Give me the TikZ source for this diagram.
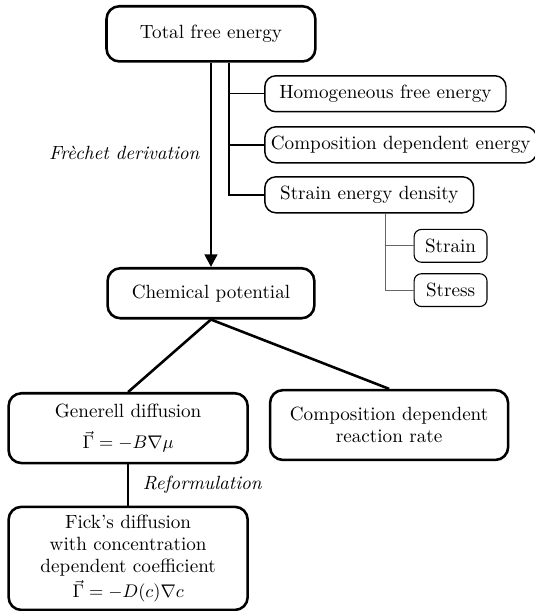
\documentclass[tikz,border=0pt]{standalone}
\usetikzlibrary{arrows.meta}
\tikzset{
    bigbox/.style={draw, line width=1.4pt, rounded corners=7pt, align=center},
    subbox/.style={draw, thick, rounded corners=6pt, minimum height=0.69cm, anchor=west},
    leafbox/.style={draw, semithick, rounded corners=4pt, minimum width=1.4cm, minimum height=0.63cm},
    branch/.style={thick},
    leafbranch/.style={semithick, gray!80!black},
}
\begin{document}
\begin{tikzpicture}[font=\fontsize{10.45}{12}\selectfont]
    \useasboundingbox (0, 0) rectangle (10.27, -11.73);

    \node[bigbox, minimum width=4.01cm, minimum height=1.06cm] (total) at (4.05, -0.65) {Total free energy};
    \node[subbox, minimum width=4.63cm] (homog) at (5.07, -1.80) {Homogeneous free energy};
    \node[subbox, minimum width=5.2cm] (compen) at (5.07, -2.78) {Composition dependent energy};
    \node[subbox, minimum width=4.01cm] (sed) at (5.07, -3.74) {Strain energy density};
    \node[leafbox] (strain) at (8.65, -4.72) {Strain};
    \node[leafbox] (stress) at (8.65, -5.57) {Stress};

    \node[bigbox, minimum width=3.97cm, minimum height=0.96cm] (chem) at (4.05, -5.63) {Chemical potential};
    \node[bigbox, minimum width=4.59cm, minimum height=1.34cm] (gendiff) at (2.46, -8.22)
        {Generell diffusion\\[5pt] $\vec{\Gamma} = -B\nabla\mu$};
    \node[bigbox, minimum width=4.57cm, minimum height=1.34cm] (rate) at (7.47, -8.16)
        {Composition dependent\\reaction rate};
    \node[bigbox, minimum width=4.59cm, minimum height=1.98cm] (fick) at (2.46, -10.72)
        {Fick's diffusion\\with concentration\\dependent coefficient\\[2pt] $\vec{\Gamma} = -D(c)\nabla c$};

    % energy contributions
    \coordinate (trunk) at ([xshift=0.35cm]total.south);
    \draw[branch] (trunk) |- (sed.west);
    \draw[branch] (homog.west) -- (homog.west -| trunk);
    \draw[branch] (compen.west) -- (compen.west -| trunk);

    % strain energy parts
    \coordinate (leaftrunk) at ([xshift=0.32cm]sed.south);
    \draw[leafbranch] (leaftrunk) |- (stress.west);
    \draw[leafbranch] (strain.west) -- (strain.west -| leaftrunk);

    \draw[line width=1.4pt, -{Triangle[length=2.4mm, width=2.4mm]}] (total) -- node[pos=0.44, left=2pt] {\textit{Frèchet derivation}} (chem);

    \draw[line width=1.4pt] (chem.south) -- (gendiff.north);
    \draw[line width=1.4pt] (chem.south) -- (rate.north);
    \draw[line width=1.4pt] (gendiff) -- node[right=4pt] {\textit{Reformulation}} (fick);
\end{tikzpicture}
\end{document}
